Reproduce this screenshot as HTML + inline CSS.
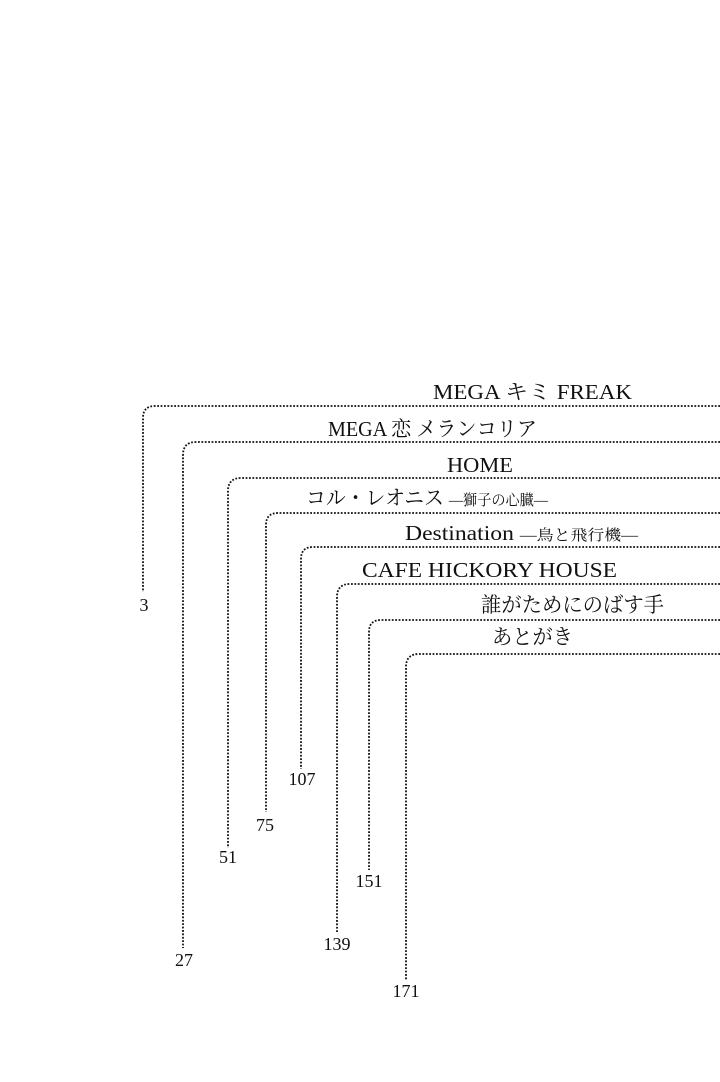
<!DOCTYPE html>
<html><head><meta charset="utf-8"><style>
html,body{margin:0;padding:0;background:#fff;}
svg{display:block;}
text{font-family:"Liberation Serif","Noto Serif CJK SC",serif;fill:#111;}
</style></head><body>
<svg width="720" height="1082" viewBox="0 0 720 1082" xmlns="http://www.w3.org/2000/svg">
<g fill="none" stroke="#111" stroke-width="1.8" stroke-dasharray="1.8 1.6">
<path d="M720 406 H155 Q143 406 143 418 V592"/>
<path d="M720 442 H196 Q183 442 183 455 V948"/>
<path d="M720 478 H241 Q228 478 228 491 V848"/>
<path d="M720 513 H278 Q266 513 266 525 V812"/>
<path d="M720 547 H313 Q301 547 301 559 V769"/>
<path d="M720 584 H350 Q337 584 337 597 V933"/>
<path d="M720 620 H381 Q369 620 369 632 V870"/>
<path d="M720 654 H419 Q406 654 406 667 V980"/>
</g>
<g font-size="21">
<text x="433" y="399" textLength="199" lengthAdjust="spacingAndGlyphs">MEGA キミ FREAK</text>
<text x="328" y="436" textLength="209" lengthAdjust="spacingAndGlyphs">MEGA 恋 メランコリア</text>
<text x="447" y="472" textLength="66" lengthAdjust="spacingAndGlyphs">HOME</text>
<text x="306" y="505" textLength="242" lengthAdjust="spacingAndGlyphs">コル・レオニス <tspan font-size="15">―獅子の心臓―</tspan></text>
<text x="405" y="540" textLength="233" lengthAdjust="spacingAndGlyphs">Destination <tspan font-size="15">―鳥と飛行機―</tspan></text>
<text x="362" y="577" textLength="255" lengthAdjust="spacingAndGlyphs">CAFE HICKORY HOUSE</text>
<text x="481" y="612" textLength="183" lengthAdjust="spacingAndGlyphs">誰がためにのばす手</text>
<text x="492" y="644" textLength="81" lengthAdjust="spacingAndGlyphs">あとがき</text>
</g>
<g font-size="18" text-anchor="middle">
<text x="144" y="611">3</text>
<text x="184" y="966">27</text>
<text x="228" y="863">51</text>
<text x="265" y="831">75</text>
<text x="302" y="785">107</text>
<text x="337" y="950">139</text>
<text x="369" y="887">151</text>
<text x="406" y="997">171</text>
</g>
</svg>
</body></html>
